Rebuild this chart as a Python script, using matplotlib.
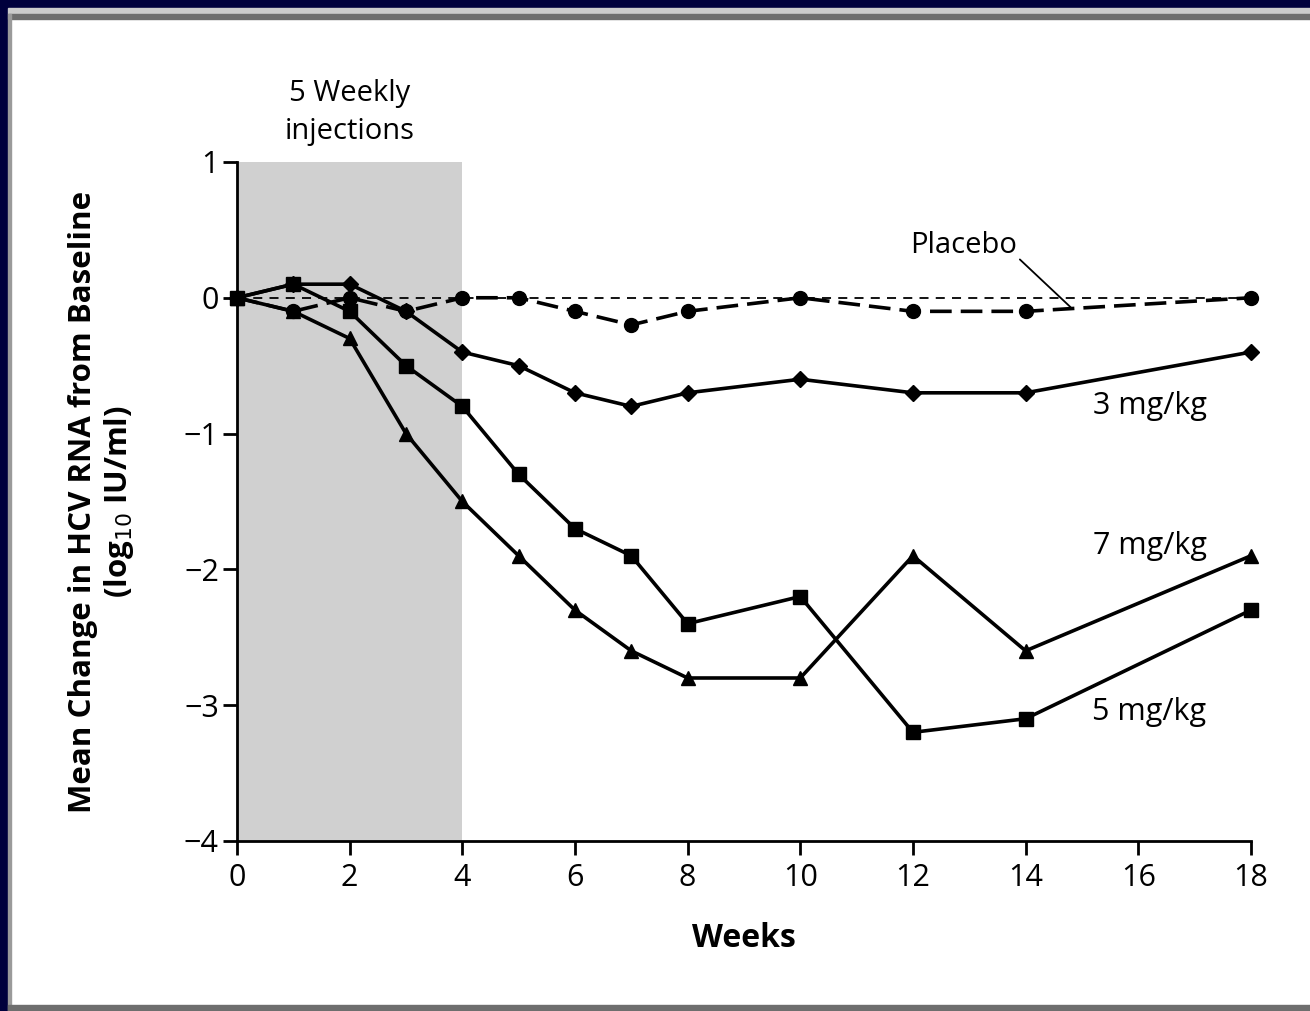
import matplotlib.pyplot as plt
from matplotlib.patches import Rectangle

plt.rcParams['font.family'] = ['Open Sans', 'DejaVu Sans']
plt.rcParams['axes.unicode_minus'] = True

# mean change in HCV RNA (log10 IU/ml) by week
weeks = [0, 1, 2, 3, 4, 5, 6, 7, 8, 10, 12, 14, 18]
placebo = [0, -0.1, 0, -0.1, 0, 0, -0.1, -0.2, -0.1, 0, -0.1, -0.1, 0]
dose_3 = [0, 0.1, 0.1, -0.1, -0.4, -0.5, -0.7, -0.8, -0.7, -0.6, -0.7, -0.7, -0.4]
dose_5 = [0, 0.1, -0.1, -0.5, -0.8, -1.3, -1.7, -1.9, -2.4, -2.2, -3.2, -3.1, -2.3]
dose_7 = [0, -0.1, -0.3, -1.0, -1.5, -1.9, -2.3, -2.6, -2.8, -2.8, -1.9, -2.6, -1.9]

injection_weeks = (0, 4)
x_ticks = [0, 2, 4, 6, 8, 10, 12, 14, 16, 18]
y_ticks = [1, 0, -1, -2, -3, -4]

fig = plt.figure(figsize=(13.1, 10.11), dpi=100)

# slide frame: navy edge with grey bevel
navy = '#00003c'
W, H = 1310, 1011
fig.patches.append(Rectangle((0, 0), 1, 1, transform=fig.transFigure, color='white', zorder=-10))
fig.patches.append(Rectangle((0, 0), 8 / W, 1, transform=fig.transFigure, color=navy, zorder=-5))
fig.patches.append(Rectangle((0, 1 - 8 / H), 1, 8 / H, transform=fig.transFigure, color=navy, zorder=-5))
fig.patches.append(Rectangle((8 / W, 1 - 14 / H), 1, 6 / H, transform=fig.transFigure, color='#cccccc', zorder=-5))
fig.patches.append(Rectangle((8 / W, 1 - 19 / H), 1, 5 / H, transform=fig.transFigure, color='#6e6e6e', zorder=-5))
fig.patches.append(Rectangle((8 / W, 0), 3 / W, 1 - 14 / H, transform=fig.transFigure, color='#9a9a9a', zorder=-5))
fig.patches.append(Rectangle((8 / W, 0), 1, 6 / H, transform=fig.transFigure, color='#6e6e6e', zorder=-5))

ax = fig.add_axes([0.1809, 0.1682, 0.7740, 0.6716])
ax.set_facecolor('none')

ax.axvspan(*injection_weeks, color='#d0d0d0', lw=0, zorder=0)
ax.plot([0, 18], [0, 0], color='black', lw=1.3, ls=(0, (5, 4)), zorder=1)

kw = dict(color='black', clip_on=False, zorder=3)
ax.plot(weeks, placebo, lw=2.6, ls=(0, (6, 2.5)), marker='o', ms=10, **kw)
ax.plot(weeks, dose_3, lw=2.6, marker='D', ms=8, **kw)
ax.plot(weeks, dose_5, lw=2.6, marker='s', ms=10, **kw)
ax.plot(weeks, dose_7, lw=2.6, marker='^', ms=9.5, **kw)

ax.set_xlim(0, 18)
ax.set_ylim(-4, 1)
ax.set_xticks(x_ticks)
ax.set_yticks(y_ticks)
ax.set_yticklabels([str(t).replace('-', '\u2212') for t in y_ticks])
ax.tick_params(length=10, width=2, labelsize=22)
ax.tick_params(axis='x', pad=6)
ax.tick_params(axis='y', pad=3)
for side in ('top', 'right'):
    ax.spines[side].set_visible(False)
for side in ('left', 'bottom'):
    ax.spines[side].set_linewidth(2)

ax.set_xlabel('Weeks', fontsize=23, fontweight='bold', va='center')
ax.xaxis.set_label_coords(0.5, -0.143)
ax.set_ylabel('Mean Change in HCV RNA from Baseline\n(log$_{10}$ IU/ml)',
              fontsize=22.5, fontweight='bold', linespacing=1.15, va='center')
ax.yaxis.set_label_coords(-0.133, 0.5)

ax.text(2, 1.12, '5 Weekly\ninjections', ha='center', va='bottom', fontsize=21, linespacing=1.38)

ax.annotate('Placebo', xy=(14.8, -0.07), xytext=(12.9, 0.28), ha='center', va='bottom',
            fontsize=21, arrowprops=dict(arrowstyle='-', color='black', lw=1.3,
                                         shrinkA=0, shrinkB=0, relpos=(1, 0.1)))
ax.text(16.2, -0.8, '3 mg/kg', ha='center', va='center', fontsize=22)
ax.text(16.2, -1.83, '7 mg/kg', ha='center', va='center', fontsize=22)
ax.text(16.2, -3.05, '5 mg/kg', ha='center', va='center', fontsize=22)

fig.savefig('out.png', dpi=100)
